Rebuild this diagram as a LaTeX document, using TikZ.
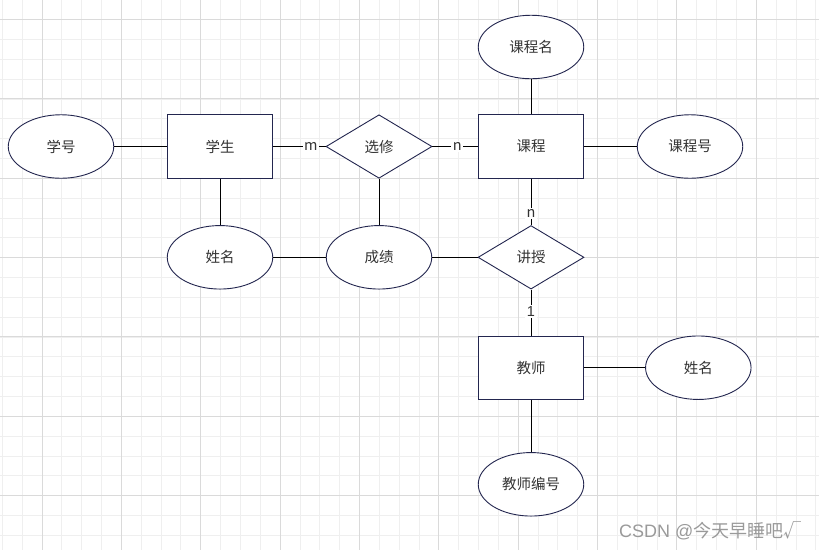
\documentclass[tikz,border=0pt]{standalone}
\usepackage{fontspec}
\setmainfont{Noto Sans CJK SC}
\newfontfamily\wmlatin{Liberation Sans}
\usetikzlibrary{shapes.geometric}
\definecolor{gridminor}{HTML}{EFEFEF}
\definecolor{gridmajor}{HTML}{DADADA}
\definecolor{edgeblue}{HTML}{23264F}
\definecolor{txt}{HTML}{333333}
\definecolor{wmgray}{HTML}{9A9A9A}
\begin{document}
\begin{tikzpicture}[x=1pt,y=-1pt,
  lbl/.style={font=\fontsize{14.5}{16}\selectfont, text=txt},
  ent/.style={lbl, draw=edgeblue, line width=0.9pt, fill=white, rectangle, minimum width=105.5pt, minimum height=63.5pt, inner sep=0pt},
  attr/.style={lbl, draw=edgeblue, line width=0.9pt, fill=white, ellipse, minimum width=105.5pt, minimum height=63.5pt, inner sep=0pt},
  rel/.style={lbl, draw=edgeblue, line width=0.9pt, fill=white, diamond, minimum width=106pt, minimum height=63.5pt, inner sep=0pt},
  conn/.style={draw=black, line width=0.9pt},
  card/.style={lbl, fill=white, inner sep=1.5pt},
  gmin/.style={draw=gridminor, line width=0.8pt},
  gmaj/.style={draw=gridmajor, line width=0.9pt}]
\useasboundingbox (0,0) rectangle (819,550);
\fill[white] (0,0) rectangle (819,550);
% grid
\foreach \k in {0,...,41} { \draw[gmin] ({2.3+19.84*\k},0) -- ({2.3+19.84*\k},550); }
\foreach \k in {0,...,28} { \draw[gmin] (0,{-0.3+19.84*\k}) -- (819,{-0.3+19.84*\k}); }
\foreach \k in {0,...,10} { \draw[gmaj] ({42+79.36*\k},0) -- ({42+79.36*\k},550); }
\foreach \k in {0,...,6} { \draw[gmaj] (0,{19.5+79.36*\k}) -- (819,{19.5+79.36*\k}); }

% nodes
\node[attr] (xuehao) at (61,146.5) {学号};
\node[ent] (xuesheng) at (220,146.5) {学生};
\node[rel] (xuanxiu) at (379,146.5) {选修};
\node[ent] (kecheng) at (531,146.5) {课程};
\node[attr] (kcm) at (531,47) {课程名};
\node[attr] (kch) at (690,146.5) {课程号};
\node[attr] (xm1) at (220,257.3) {姓名};
\node[attr] (chengji) at (379,257.3) {成绩};
\node[rel] (jiangshou) at (531,257.3) {讲授};
\node[ent] (jiaoshi) at (531,367.7) {教师};
\node[attr] (xm2) at (698.3,367.7) {姓名};
\node[attr] (jsbh) at (531,484.3) {教师编号};

% connectors
\draw[conn] (xuehao) -- (xuesheng);
\draw[conn] (xuesheng) -- node[card, pos=0.72] (cm) {m} (xuanxiu);
\draw[conn] (xuanxiu) -- node[card, pos=0.55] (cn1) {n} (kecheng);
\draw[conn] (kcm) -- (kecheng);
\draw[conn] (kecheng) -- (kch);
\draw[conn] (xuesheng) -- (xm1);
\draw[conn] (xuanxiu) -- (chengji);
\draw[conn] (xm1) -- (chengji);
\draw[conn] (chengji) -- (jiangshou);
\draw[conn] (kecheng) -- node[card, pos=0.74] (cn2) {n} (jiangshou);
\draw[conn] (jiangshou) -- node[card, pos=0.47, font=\wmlatin\fontsize{14.5}{16}\selectfont] (c1) {1} (jiaoshi);
\draw[conn] (jiaoshi) -- (xm2);
\draw[conn] (jiaoshi) -- (jsbh);

% watermark
\node[anchor=west, inner sep=0pt, text=wmgray, font=\fontsize{18}{20}\selectfont] (wm) at (619,531) {{\wmlatin CSDN @}今天早睡吧√};
\end{tikzpicture}
\end{document}
